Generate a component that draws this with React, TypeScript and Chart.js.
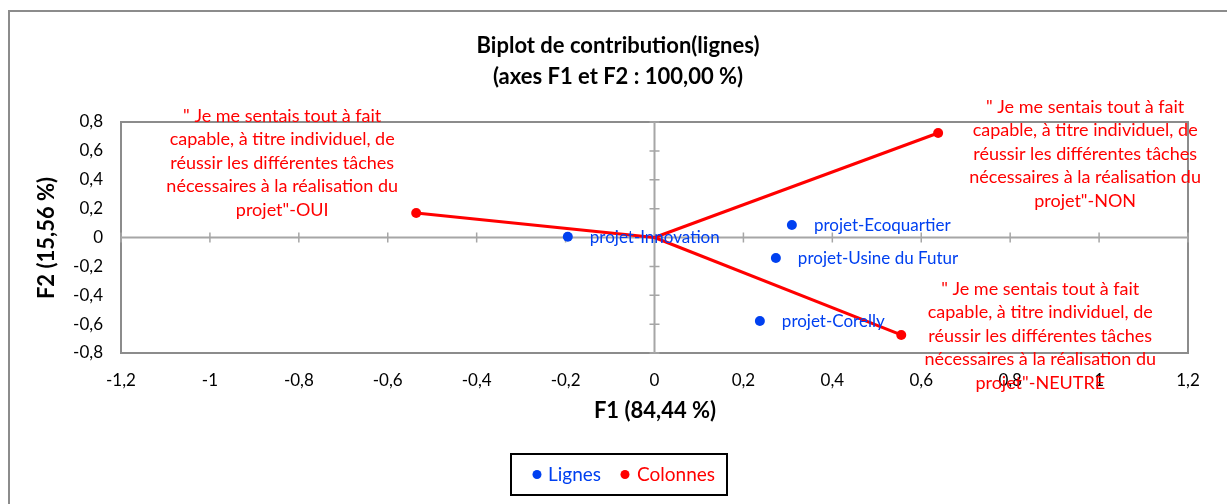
import React, { useEffect, useRef } from "react";
import { Chart, registerables } from "chart.js";

Chart.register(...registerables);

const titleLines = ["Biplot de contribution(lignes)", "(axes F1 et F2 : 100,00 %)"];
const xAxisTitle = "F1 (84,44 %)";
const yAxisTitle = "F2 (15,56 %)";

const rowLabels = ["projet-Innovation", "projet-Ecoquartier", "projet-Usine du Futur", "projet-Corelly"];
const rowF1 = [-0.195, 0.309, 0.273, 0.237];
const rowF2 = [0.005, 0.087, -0.142, -0.578];

const colLabelText = "\" Je me sentais tout à fait|capable, à titre individuel, de|réussir les différentes tâches|nécessaires à la réalisation du|projet\"-";
const colSuffixes = ["OUI", "NON", "NEUTRE"];
const colF1 = [-0.536, 0.638, 0.555];
const colF2 = [0.17, 0.724, -0.675];

const legendNames = ["Lignes", "Colonnes"];
const xTicks = [-1.2, -1, -0.8, -0.6, -0.4, -0.2, 0, 0.2, 0.4, 0.6, 0.8, 1, 1.2];
const yTicks = [-0.8, -0.6, -0.4, -0.2, 0, 0.2, 0.4, 0.6, 0.8];

const BLUE = "#0040f0";
const RED = "#ff0000";
const FONT = "Lato, 'Open Sans', sans-serif";

// label placement offsets (px) relative to each red point: [dx of block center, dy of block center]
const colLabelOffsets = [
  [-134, -50],
  [147, 21],
  [139, 1],
];

const fmt = (v: number) => {
  const r = Math.round(v * 10) / 10;
  if (Math.abs(r) < 1e-9) return "0";
  return String(r).replace(".", ",");
};

const decorPlugin = {
  id: "decor",
  beforeDatasetsDraw(chart: any) {
    const ctx = chart.ctx;
    const { left, right, top, bottom } = chart.chartArea;
    const xs = chart.scales.x;
    const ys = chart.scales.y;
    ctx.save();
    ctx.strokeStyle = "#8c8c8c";
    ctx.lineWidth = 2;
    ctx.beginPath();
    ctx.moveTo(9, 520);
    ctx.lineTo(9, 11);
    ctx.lineTo(1240, 11);
    ctx.stroke();
    ctx.strokeRect(left, top, right - left, bottom - top);
    const x0 = xs.getPixelForValue(0);
    const y0 = ys.getPixelForValue(0);
    ctx.strokeStyle = "#a6a6a6";
    ctx.lineWidth = 2;
    ctx.beginPath();
    ctx.moveTo(left, y0);
    ctx.lineTo(right, y0);
    ctx.moveTo(x0, top);
    ctx.lineTo(x0, bottom);
    ctx.stroke();
    ctx.lineWidth = 1.5;
    ctx.beginPath();
    xTicks.forEach((t) => {
      const px = xs.getPixelForValue(t);
      ctx.moveTo(px, y0 - 5);
      ctx.lineTo(px, y0 + 5);
    });
    yTicks.forEach((t) => {
      const py = ys.getPixelForValue(t);
      ctx.moveTo(x0 - 5, py);
      ctx.lineTo(x0 + 5, py);
    });
    ctx.stroke();
    ctx.restore();
  },
  afterDatasetsDraw(chart: any) {
    const ctx = chart.ctx;
    const xs = chart.scales.x;
    const ys = chart.scales.y;
    ctx.save();
    ctx.font = `17px ${FONT}`;
    ctx.fillStyle = BLUE;
    ctx.textAlign = "left";
    ctx.textBaseline = "middle";
    rowLabels.forEach((lab, i) => {
      const px = xs.getPixelForValue(rowF1[i]);
      const py = ys.getPixelForValue(rowF2[i]);
      ctx.fillText(lab, px + 22, py + 1);
    });
    ctx.fillStyle = RED;
    ctx.textAlign = "center";
    ctx.font = `18px ${FONT}`;
    const lh = 23.4;
    colSuffixes.forEach((suf, i) => {
      const lines = (colLabelText + suf).split("|");
      const px = xs.getPixelForValue(colF1[i]) + colLabelOffsets[i][0];
      const cy = ys.getPixelForValue(colF2[i]) + colLabelOffsets[i][1];
      const startY = cy - ((lines.length - 1) * lh) / 2;
      lines.forEach((ln, k) => ctx.fillText(ln, px, startY + k * lh));
    });
    ctx.fillStyle = "#000";
    ctx.font = `bold 22px ${FONT}`;
    ctx.fillText(titleLines[0], 618, 46);
    ctx.fillText(titleLines[1], 618, 77);
    ctx.fillText(xAxisTitle, 655, 411);
    ctx.save();
    ctx.translate(47, 238);
    ctx.rotate(-Math.PI / 2);
    ctx.fillText(yAxisTitle, 0, 0);
    ctx.restore();
    ctx.strokeStyle = "#000";
    ctx.lineWidth = 2;
    ctx.strokeRect(511, 454, 216, 41);
    ctx.font = `19px ${FONT}`;
    ctx.textAlign = "left";
    const items = [
      { c: BLUE, dx: 537, tx: 548 },
      { c: RED, dx: 625, tx: 637 },
    ];
    items.forEach((it, i) => {
      ctx.fillStyle = it.c;
      ctx.beginPath();
      ctx.arc(it.dx, 474.5, 4.5, 0, Math.PI * 2);
      ctx.fill();
      ctx.fillText(legendNames[i], it.tx, 475);
    });
    ctx.restore();
  },
};

export default function App() {
  const ref = useRef<HTMLCanvasElement>(null);
  useEffect(() => {
    if (!ref.current) return;
    const lineSets = colF1.map((_, i) => ({
      type: "line" as const,
      label: "v" + i,
      data: [
        { x: 0, y: 0 },
        { x: colF1[i], y: colF2[i] },
      ],
      borderColor: RED,
      borderWidth: 3,
      pointRadius: [0, 5],
      pointBackgroundColor: RED,
      pointBorderWidth: 0,
      showLine: true,
    }));
    const chart = new Chart(ref.current, {
      type: "scatter",
      data: {
        datasets: [
          {
            label: legendNames[0],
            data: rowF1.map((x, i) => ({ x, y: rowF2[i] })),
            backgroundColor: BLUE,
            borderWidth: 0,
            pointRadius: 5,
          },
          ...lineSets,
        ] as any,
      },
      options: {
        responsive: false,
        animation: false,
        layout: { padding: { left: 30, top: 122, right: 39, bottom: 100 } },
        plugins: { legend: { display: false }, tooltip: { enabled: false }, title: { display: false } },
        scales: {
          x: {
            type: "linear",
            min: -1.2,
            max: 1.2,
            afterBuildTicks: (s: any) => {
              s.ticks = xTicks.map((v) => ({ value: v }));
            },
            afterFit: (s: any) => {
              s.height = 51;
            },
            grid: { display: false, drawTicks: false },
            border: { display: false },
            ticks: { padding: 17, color: "#000", font: { family: FONT, size: 17 }, callback: (v: any) => fmt(Number(v)), maxRotation: 0, autoSkip: false },
          },
          y: {
            type: "linear",
            min: -0.8,
            max: 0.8,
            afterBuildTicks: (s: any) => {
              s.ticks = yTicks.map((v) => ({ value: v }));
            },
            afterFit: (s: any) => {
              s.width = 91;
            },
            grid: { display: false, drawTicks: false },
            border: { display: false },
            ticks: { padding: 18, color: "#000", font: { family: FONT, size: 17 }, callback: (v: any) => fmt(Number(v)), autoSkip: false },
          },
        },
      },
      plugins: [decorPlugin],
    } as any);
    return () => chart.destroy();
  }, []);
  return (
    <div style={{ position: "fixed", left: 0, top: 0, width: 1227, height: 504, background: "#fff" }}>
      <canvas ref={ref} width={1227} height={504} style={{ display: "block" }} />
    </div>
  );
}
